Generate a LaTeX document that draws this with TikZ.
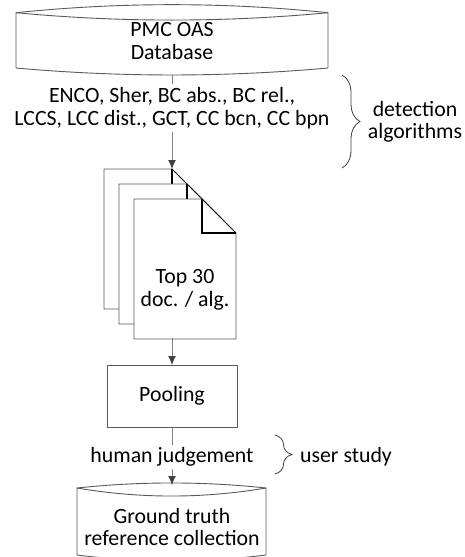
\documentclass[tikz,border=0pt]{standalone}
\usepackage{fontspec}
\setmainfont{Carlito}
\usetikzlibrary{arrows.meta,decorations.pathreplacing}
\definecolor{edgegray}{RGB}{90,90,90}
\definecolor{flowgray}{RGB}{128,128,128}
\definecolor{tipgray}{RGB}{64,64,64}
\begin{document}
\begin{tikzpicture}[x=1pt,y=-1pt]
\tikzset{ >={Latex[length=9pt,width=8pt,color=tipgray]}, inner sep=0pt, outer sep=0pt,
  txt/.style={align=center, font=\fontsize{21.8}{22.5}\selectfont},
  outline/.style={draw=edgegray, line width=0.9pt, fill=white},
  flow/.style={->, draw=flowgray, line width=0.9pt},
  fold/.style={black, line width=1.6pt},
  curly/.style={decorate, decoration={brace, amplitude=#1}, draw=tipgray, line width=0.8pt},
}
\useasboundingbox (0,0) rectangle (465,557);
%\draw [lightgray, dashed](0,0) grid[step=20] (465,557);

% source database
\draw [outline] (16,12.7) .. controls (120,2) and (224,2) .. (328,12.7)
  -- (328,68) .. controls (224,77.3) and (120,77.3) .. (16,68) -- cycle;
\draw [draw=edgegray, line width=0.9pt] (16,12.7) .. controls (120,22.5) and (224,22.5) .. (328,12.7);
\node [txt] (PMC) at (172,41) {PMC OAS\\Database};
\coordinate (PMCbot) at (172,75);

% stack of result documents
\foreach \d in {0,15,30} {
  \draw [outline] (104+\d,169+\d) -- ++(68,0) -- ++(34,34) -- ++(0,106) -- ++(-102,0) -- cycle;
  \draw [black, line width=0.7pt] (172+\d,169+\d) -- ++(34,34);
  \draw [fold] (172+\d,169+\d) -- ++(0,34) -- ++(34,0);
}
\node [txt] (TOP) at (185,290) {Top 30\\doc. / alg.};
\coordinate (TOPin)  at (172,169);
\coordinate (TOPout) at (172,338);

\draw [flow] (PMCbot) -- (TOPin);
\node [txt, fill=white, inner sep=3pt] (ALG) at (172,108)
  {ENCO, Sher, BC abs., BC rel.,\\LCCS, LCC dist., GCT, CC bcn, CC bpn};

% pooling
\node [txt, outline, minimum width=130pt, minimum height=62pt] (POOL) at (172,396) {Pooling};
\draw [flow] (TOPout) -- (POOL.north);

% reference database
\draw [outline] (77,488) .. controls (140,481.3) and (203,481.3) .. (266,488)
  -- (266,555) .. controls (203,563) and (140,563) .. (77,555) -- cycle;
\draw [draw=edgegray, line width=0.9pt] (77,488) .. controls (140,498.7) and (203,498.7) .. (266,488);
\node [txt] (GT) at (172,527) {Ground truth\\reference collection};
\coordinate (GTtop) at (172,485);

\draw [flow] (POOL.south) -- (GTtop);
\node [txt, fill=white, inner sep=3pt] (HUM) at (172,457) {human judgement};

% braces
\draw [curly=18pt] (342,75) -- (342,168);
\node [txt] (DET) at (415,122) {detection\\algorithms};
\draw [curly=17pt] (275,435) -- (275,474);
\node [txt] (USR) at (346,457) {user study};

\end{tikzpicture}
\end{document}
